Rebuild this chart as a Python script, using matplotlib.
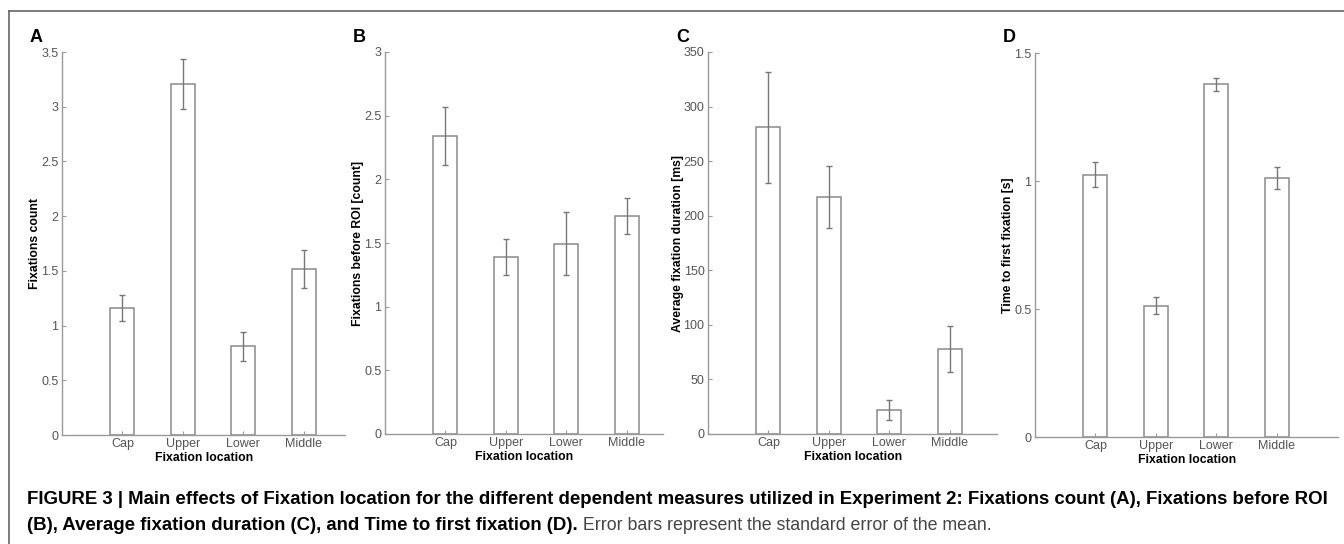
import numpy as np
import matplotlib
matplotlib.use('Agg')
import matplotlib.pyplot as plt
from matplotlib.ticker import FormatStrFormatter

plt.rcParams['font.family'] = ['Liberation Sans', 'DejaVu Sans']

# data
locations = ['Cap', 'Upper', 'Lower', 'Middle']
fix_count = [1.16, 3.21, 0.81, 1.52]
fix_count_se = [0.12, 0.23, 0.13, 0.175]
fix_before = [2.34, 1.39, 1.495, 1.71]
fix_before_se = [0.23, 0.14, 0.245, 0.143]
avg_dur = [281, 217, 22, 78]
avg_dur_se = [51, 28.5, 9.3, 21]
time_first = [1.025, 0.513, 1.378, 1.012]
time_first_se = [0.049, 0.034, 0.026, 0.043]

letters = ['A', 'B', 'C', 'D']
ylabels = ['Fixations count', 'Fixations before ROI [count]',
           'Average fixation duration [ms]', 'Time to first fixation [s]']
ymaxes = [3.5, 3, 350, 1.5]
ysteps = [0.5, 0.5, 50, 0.5]

W, H = 1344, 544
fig = plt.figure(figsize=(W / 100, H / 100), dpi=100)

# panel layout in pixels: left, top, bottom, xmax
layout = [(62, 52, 435, 4.69), (385, 52, 434, 4.61),
          (708, 52, 434, 4.79), (1035, 53, 437, 5.02)]
unit_px = 60.4
grey = '#8a8a8a'

series = [(fix_count, fix_count_se), (fix_before, fix_before_se),
          (avg_dur, avg_dur_se), (time_first, time_first_se)]

for i, (vals, errs) in enumerate(series):
    left, top, bot, xmax = layout[i]
    width = xmax * unit_px
    ax = fig.add_axes([left / W, 1 - bot / H, width / W, (bot - top) / H])
    x = np.arange(1, len(locations) + 1)
    ax.bar(x, vals, width=0.4, facecolor='white', edgecolor=grey, linewidth=1.1)
    ax.errorbar(x, vals, yerr=errs, fmt='none', ecolor='#777777',
                elinewidth=1.0, capsize=2.2, capthick=1.0)
    ax.set_xlim(0, xmax)
    ax.set_ylim(0, ymaxes[i])
    ax.set_yticks(np.arange(0, ymaxes[i] + ysteps[i] / 2, ysteps[i]))
    ax.yaxis.set_major_formatter(FormatStrFormatter('%g'))
    ax.set_xticks(x)
    ax.set_xticklabels(locations)
    for s in ['top', 'right']:
        ax.spines[s].set_visible(False)
    for s in ['left', 'bottom']:
        ax.spines[s].set_color('#999999')
        ax.spines[s].set_linewidth(1.0)
    ax.tick_params(direction='in', length=3, width=0.8, color='#999999',
                   labelcolor='#555555', labelsize=9, pad=2.5)
    ax.set_xlabel('Fixation location', fontsize=8.8, fontweight='bold', labelpad=1)
    ax.set_ylabel(ylabels[i], fontsize=8.8, fontweight='bold', labelpad=0)
    ax.patch.set_alpha(0)
    fig.text((left - 32) / W, 1 - 38 / H, letters[i], fontsize=13,
             fontweight='bold', va='center', ha='left')

# frame around the panels
fig.add_artist(plt.Line2D([9 / W, 9 / W], [0, 1 - 11 / H], color='#666666', linewidth=1.2))
fig.add_artist(plt.Line2D([9 / W, 1], [1 - 11 / H, 1 - 11 / H], color='#666666', linewidth=1.2))

cap1 = ('FIGURE 3 | Main effects of Fixation location for the different dependent measures '
        'utilized in Experiment 2: Fixations count (A), Fixations before ROI')
cap2 = '(B), Average fixation duration (C), and Time to first fixation (D).'
cap3 = ' Error bars represent the standard error of the mean.'
fig.text(27 / W, 1 - 499 / H, cap1, fontsize=13.4, fontweight='bold', va='center')
t2 = fig.text(27 / W, 1 - 525 / H, cap2, fontsize=13.4, fontweight='bold', va='center')
plt.annotate(cap3, xy=(1, 0), xycoords=t2, va='bottom', ha='left',
             fontsize=12.8, color='#444444')

plt.savefig('out.png', dpi=100)
